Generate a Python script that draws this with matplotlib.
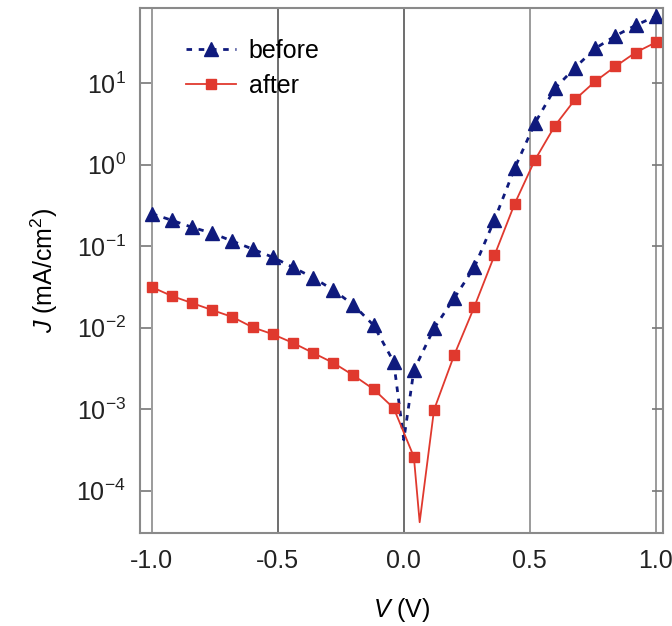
import numpy as np
import matplotlib
matplotlib.use("Agg")
from matplotlib import pyplot as plt

plt.rcParams["font.family"] = ["Liberation Sans", "DejaVu Sans"]
plt.rcParams["mathtext.fontset"] = "custom"
plt.rcParams["mathtext.rm"] = "Liberation Sans"
plt.rcParams["mathtext.it"] = "Liberation Sans:italic"
plt.rcParams["axes.unicode_minus"] = False

# voltage (V) and current density (mA/cm^2)
v_before = [-1.00, -0.92, -0.84, -0.76, -0.68, -0.60, -0.52, -0.44, -0.36,
            -0.28, -0.20, -0.12, -0.04, 0.00, 0.04, 0.12, 0.20, 0.28, 0.36,
            0.44, 0.52, 0.60, 0.68, 0.76, 0.84, 0.92, 1.00]
j_before = [0.25, 0.207, 0.17, 0.144, 0.115, 0.092, 0.073, 0.055, 0.041,
            0.029, 0.019, 0.0107, 0.0038, 4.2e-4, 3.0e-3, 9.8e-3, 0.023,
            0.055, 0.21, 0.90, 3.2, 8.6, 15.5, 26.6, 38.0, 51.0, 66.0]

v_after = [-1.00, -0.92, -0.84, -0.76, -0.68, -0.60, -0.52, -0.44, -0.36,
           -0.28, -0.20, -0.12, -0.04, 0.04, 0.063, 0.12, 0.20, 0.28, 0.36,
           0.44, 0.52, 0.60, 0.68, 0.76, 0.84, 0.92, 1.00]
j_after = [0.0314, 0.0244, 0.020, 0.0164, 0.0135, 0.0101, 0.0083, 0.0065,
           0.0049, 0.0037, 0.0026, 0.00176, 0.00103, 2.6e-4, 4.1e-5, 9.8e-4,
           0.0046, 0.018, 0.077, 0.33, 1.13, 3.0, 6.3, 10.5, 16.0, 23.7, 31.5]

# the sweep points at V=0 (before) and at the minimum (after) carry no marker
mark_before = [i for i in range(len(v_before)) if i != 13]
mark_after = [i for i in range(len(v_after)) if i != 14]

xticks = [-1.0, -0.5, 0.0, 0.5, 1.0]

fig = plt.figure(figsize=(6.72, 6.26), dpi=100)
ax = fig.add_axes([0.208, 0.149, 0.779, 0.838])

for x in xticks:
    ax.axvline(x, color="#555555" if x in (-0.5, 0.0) else "#8a8a8a",
               lw=1.2, zorder=0)

ax.plot(v_before, j_before, ls=(0, (2.0, 2.4)), lw=2.0, color="#0f1a7d",
        marker="^", markersize=10, markevery=mark_before, label="before")
ax.plot(v_after, j_after, ls="-", lw=1.3, color="#e0392e",
        marker="s", markersize=7, markevery=mark_after, label="after")

ax.set_yscale("log")
ax.set_xlim(-1.048, 1.03)
ax.set_ylim(3.05e-5, 83)
ax.set_xticks(xticks)
ax.set_xticklabels(["-1.0", "-0.5", "0.0", "0.5", "1.0"])
ax.set_yticks([1e-4, 1e-3, 1e-2, 1e-1, 1e0, 1e1])
ax.yaxis.set_minor_locator(matplotlib.ticker.NullLocator())

ax.tick_params(axis="x", length=0, pad=12, labelsize=18, colors="#222222")
ax.tick_params(axis="y", direction="in", length=8, width=1.2, color="#777777",
               right=True, labelsize=18, labelcolor="#222222", pad=10)
for s in ax.spines.values():
    s.set_color("#8a8a8a")
    s.set_linewidth(1.5)

ax.set_xlabel(r"$V$ (V)", fontsize=18, labelpad=16)
ax.set_ylabel(r"$J$ (mA/cm$^2$)", fontsize=18, labelpad=12)

ax.legend(loc="upper left", bbox_to_anchor=(0.06, 0.97), frameon=False,
          fontsize=18, handlelength=2.0, handletextpad=0.5, labelspacing=0.45,
          borderaxespad=0.2)

fig.savefig("out.png", dpi=100)
